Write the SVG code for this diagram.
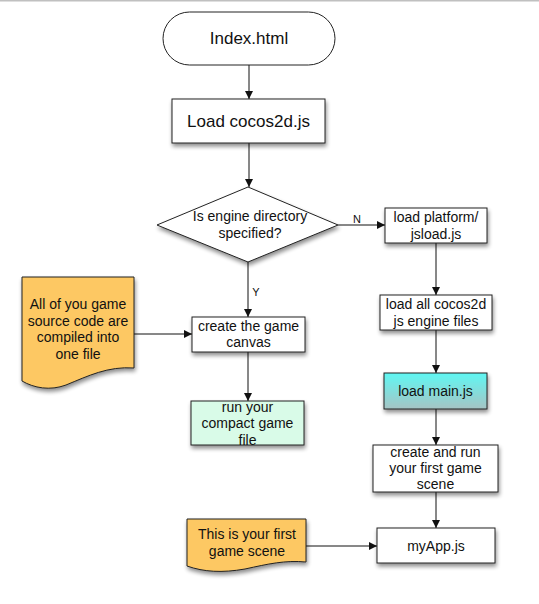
<svg xmlns="http://www.w3.org/2000/svg" width="539" height="604" viewBox="0 0 539 604">
<defs>
<style>
.box{stroke:#222;stroke-width:1;}
.t{font-family:"Liberation Sans",Arial,sans-serif;font-size:14px;fill:#111;text-anchor:middle;}
.big{font-size:17px;}
.lbl{font-family:"Liberation Sans",Arial,sans-serif;font-size:11px;fill:#111;text-anchor:middle;}
.c{stroke:#111;stroke-width:1;fill:none;marker-end:url(#ah);}
</style>
<marker id="ah" viewBox="0 0 10 10" refX="10" refY="5" markerWidth="8" markerHeight="8" markerUnits="userSpaceOnUse" orient="auto">
<path d="M0,0 L10,5 L0,10 Z" fill="#111"/>
</marker>
<filter id="sh" x="-20%" y="-20%" width="150%" height="160%">
<feGaussianBlur in="SourceAlpha" stdDeviation="2"/>
<feOffset dx="1" dy="3" result="b"/>
<feComponentTransfer><feFuncA type="linear" slope="0.45"/></feComponentTransfer>
<feMerge><feMergeNode/><feMergeNode in="SourceGraphic"/></feMerge>
</filter>
<linearGradient id="cy" x1="0" y1="0" x2="0" y2="1">
<stop offset="0" stop-color="#5ff7f3"/>
<stop offset="1" stop-color="#a6c4c4"/>
</linearGradient>
</defs>
<rect width="539" height="604" fill="#fff"/>
<line x1="0" y1="0.75" x2="539" y2="0.75" stroke="#c0c0c0" stroke-width="1.5"/>

<g id="connectors">
<line class="c" x1="249" y1="65" x2="249" y2="99"/>
<line class="c" x1="249" y1="143" x2="249" y2="187"/>
<line class="c" x1="338" y1="225" x2="385" y2="225"/>
<line class="c" x1="436" y1="243" x2="436" y2="295"/>
<line class="c" x1="248" y1="262" x2="248" y2="317"/>
<line class="c" x1="248" y1="352" x2="248" y2="401"/>
<line class="c" x1="134" y1="334" x2="192" y2="334"/>
<line class="c" x1="436" y1="330" x2="436" y2="373"/>
<line class="c" x1="436" y1="409" x2="436" y2="445"/>
<line class="c" x1="436" y1="492" x2="436" y2="528"/>
<line class="c" x1="306" y1="546" x2="377" y2="546"/>
<text class="lbl" x="357" y="223">N</text>
<text class="lbl" x="256" y="296">Y</text>
</g>

<g id="index">
<rect class="box" x="163" y="12" width="172" height="53" rx="26.5" fill="#fff"/>
<text class="t big" x="249" y="44">Index.html</text>
</g>
<g id="load-cocos">
<rect class="box" x="172" y="99" width="153" height="44" fill="#fff" filter="url(#sh)"/>
<text class="t big" x="248.5" y="127">Load cocos2d.js</text>
</g>
<g id="decision">
<polygon class="box" points="248,187 338,225 248,262 157,225" fill="#fff" filter="url(#sh)"/>
<text class="t" x="250" y="221">Is engine directory</text>
<text class="t" x="250" y="238">specified?</text>
</g>
<g id="load-platform">
<rect class="box" x="385" y="208" width="102" height="35" fill="#fff" filter="url(#sh)"/>
<text class="t" x="436" y="222">load platform/</text>
<text class="t" x="436" y="239">jsload.js</text>
</g>
<g id="load-all">
<rect class="box" x="380" y="295" width="112" height="35" fill="#fff" filter="url(#sh)"/>
<text class="t" x="436" y="309">load all cocos2d</text>
<text class="t" x="436" y="326">js engine files</text>
</g>
<g id="canvas">
<rect class="box" x="192" y="317" width="113" height="35" fill="#fff" filter="url(#sh)"/>
<text class="t" x="248.5" y="331">create the game</text>
<text class="t" x="248.5" y="347">canvas</text>
</g>
<g id="compact">
<rect class="box" x="191" y="401" width="113" height="44" fill="#d9fbe8" filter="url(#sh)"/>
<text class="t" x="247.5" y="412">run your</text>
<text class="t" x="247.5" y="428">compact game</text>
<text class="t" x="247.5" y="445">file</text>
</g>
<g id="source-doc">
<path class="box" d="M22,277 H134 V368 C108,366 88,376 66,385 C50,391 34,388 22,381 Z" fill="#fdc863" filter="url(#sh)"/>
<text class="t" x="78" y="309">All of you game</text>
<text class="t" x="78" y="326">source code are</text>
<text class="t" x="78" y="342">compiled into</text>
<text class="t" x="78" y="359">one file</text>
</g>
<g id="main-js">
<rect class="box" x="384" y="373" width="103" height="36" fill="url(#cy)" filter="url(#sh)"/>
<text class="t" x="435.5" y="396">load main.js</text>
</g>
<g id="first-scene">
<rect class="box" x="373" y="445" width="125" height="47" fill="#fff" filter="url(#sh)"/>
<text class="t" x="435.5" y="457">create and run</text>
<text class="t" x="435.5" y="473">your first game</text>
<text class="t" x="435.5" y="489">scene</text>
</g>
<g id="myapp">
<rect class="box" x="377" y="528" width="118" height="35" fill="#fff" filter="url(#sh)"/>
<text class="t" x="436" y="551">myApp.js</text>
</g>
<g id="scene-doc">
<path class="box" d="M187,519 H306 V562 C285,560 268,564 245,569 C222,573 204,572 187,566 Z" fill="#fdc863" filter="url(#sh)"/>
<text class="t" x="247" y="539">This is your first</text>
<text class="t" x="247" y="556">game scene</text>
</g>
</svg>
